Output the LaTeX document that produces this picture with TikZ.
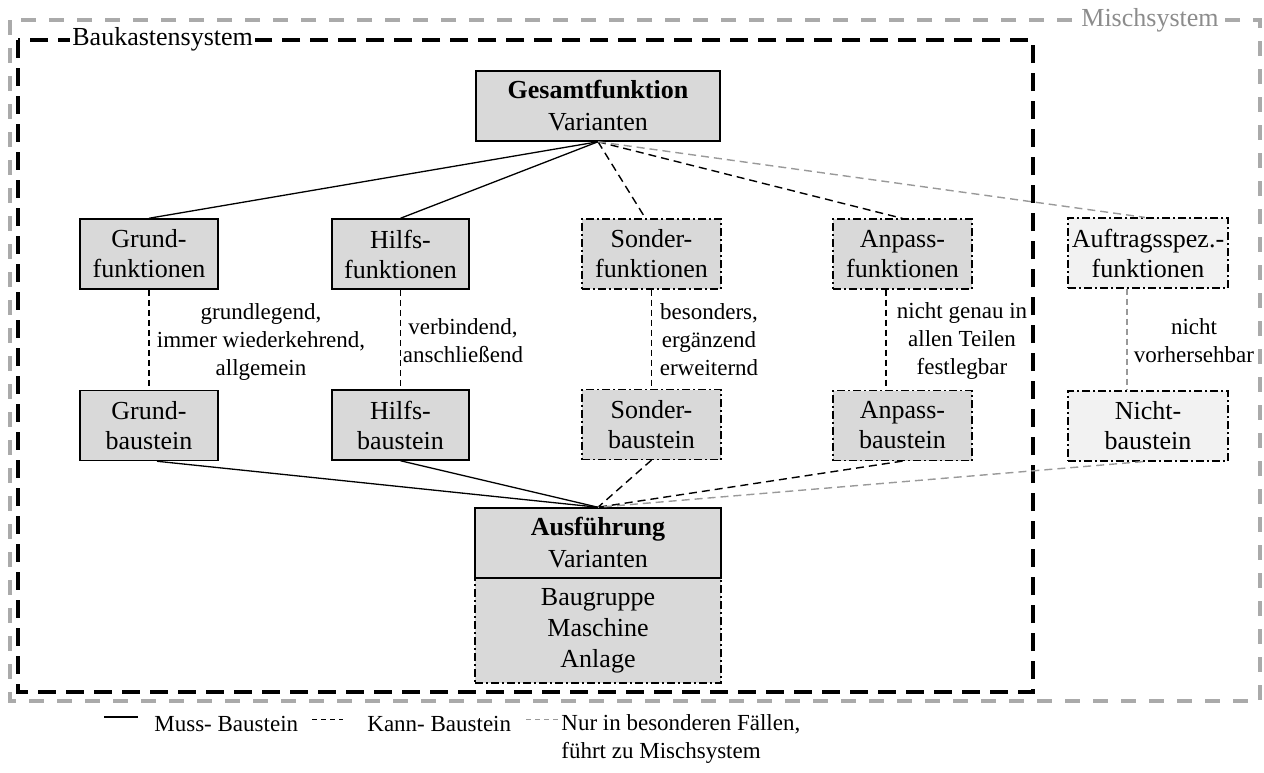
\documentclass[tikz,border=0pt]{standalone}
\usepackage{fontspec}
\setmainfont{Liberation Serif}
\definecolor{boxfill}{HTML}{D9D9D9}
\definecolor{lightfill}{HTML}{F2F2F2}
\definecolor{mischgray}{HTML}{AAAAAA}
\definecolor{mischtext}{HTML}{8C8C8C}
\definecolor{thingray}{HTML}{999999}
\newcommand\boxfont{\fontsize{13pt}{15pt}\selectfont}
\newcommand\bigboxfont{\fontsize{13pt}{16pt}\selectfont}
\newcommand\lblfont{\fontsize{11.5pt}{14pt}\selectfont}
\begin{document}
\begin{tikzpicture}[x=0.5pt,y=-0.5pt,
  box/.style={draw=black, line width=0.75pt, fill=boxfill, minimum width=69pt,
    minimum height=35pt, inner sep=0pt, align=center, font=\boxfont},
  optbox/.style={box, line width=0.6pt, dash pattern=on 4pt off 1.5pt on 1pt off 1.5pt},
  rarebox/.style={optbox, fill=lightfill},
  must/.style={line width=0.65pt},
  can/.style={line width=0.7pt, dash pattern=on 4pt off 2.5pt},
  rare/.style={can, draw=thingray},
  vcan/.style={line width=0.55pt, dash pattern=on 3pt off 2pt},
  vrare/.style={vcan, draw=thingray},
  lbl/.style={align=center, font=\lblfont, inner sep=0pt},
  baukline/.style={line width=2pt, dash pattern=on 9pt off 5pt},
  mischline/.style={line width=1.75pt, draw=mischgray, dash pattern=on 7.5pt off 6.5pt},
  frametitle/.style={fill=white, inner sep=1pt, font=\boxfont}
]
\useasboundingbox (0,0) rectangle (1264,772);

% frames
\draw[mischline] (10,20) rectangle (1260,701);
\draw[baukline] (18,40) rectangle (1033,692);
\node[frametitle, anchor=west] (bk) at (70,39) {Baukastensystem};
\node[frametitle, text=mischtext] (ms) at (1150,20) {Mischsystem};

% top node
\node[box, minimum width=122pt, font=\bigboxfont] (G) at (598,106) {\textbf{Gesamtfunktion}\\Varianten};

% row 1
\node[box] (GF) at (149,254) {Grund-\\funktionen};
\node[box, minimum width=68.5pt] (HF) at (400.5,254) {Hilfs-\\funktionen};
\node[optbox, minimum width=69.5pt] (SF) at (651.5,254) {Sonder-\\funktionen};
\node[optbox, minimum width=69.5pt] (AF) at (902.5,254) {Anpass-\\funktionen};
\node[rarebox, minimum width=80pt] (TF) at (1148,253) {Auftragsspez.-\\funktionen};

% row 2
\node[box] (GB) at (149,425.5) {Grund-\\baustein};
\node[box, minimum width=68.5pt] (HB) at (400.5,425) {Hilfs-\\baustein};
\node[optbox, minimum width=69.5pt] (SB) at (651.5,424.5) {Sonder-\\baustein};
\node[optbox, minimum width=69.5pt] (AB) at (902.5,425.5) {Anpass-\\baustein};
\node[rarebox, minimum width=80pt] (NB) at (1148,426) {Nicht-\\baustein};

% bottom nodes
\node[optbox, minimum width=123pt, minimum height=52.5pt, font=\fontsize{13pt}{15.5pt}\selectfont] (L) at (598,630.5) {Baugruppe\\Maschine\\Anlage};
\node[box, minimum width=123pt, font=\bigboxfont] (A) at (598,543) {\textbf{Ausführung}\\Varianten};

% connectors from top
\draw[must] (G.south) -- (GF.north);
\draw[must] (G.south) -- (HF.north);
\draw[can] (G.south) -- ([xshift=-3pt]SF.north);
\draw[can] (G.south) -- (AF.north);
\draw[rare] (G.south) -- ([xshift=-1.5pt]TF.north);

% vertical connectors
\draw[vcan] (GF.south) -- (GB.north);
\draw[vcan] (HF.south) -- (HB.north);
\draw[vcan] (SF.south) -- (SB.north);
\draw[vcan] ([xshift=-8.25pt]AF.south) -- ([xshift=-8.25pt]AB.north);
\draw[vrare] ([xshift=-10.5pt]TF.south) -- ([xshift=-10.5pt]NB.north);

% connectors to bottom
\draw[must] ([xshift=4pt]GB.south) -- (A.north);
\draw[must] (HB.south) -- (A.north);
\draw[can] (SB.south) -- (A.north);
\draw[can] (AB.south) -- (A.north);
\draw[rare] ([xshift=-2.5pt]NB.south) -- (A.north);

% labels
\node[lbl] (l1) at (261,342) {grundlegend,\\immer wiederkehrend,\\allgemein};
\node[lbl] (l2) at (463,341) {verbindend,\\anschließend};
\node[lbl] (l3) at (709,340) {besonders,\\ergänzend\\erweiternd};
\node[lbl] (l4) at (962,341) {nicht genau in\\allen Teilen\\festlegbar};
\node[lbl] (l5) at (1194,341) {nicht\\vorhersehbar};

% legend
\coordinate (m1) at (104,717); \coordinate (m2) at (138,717);
\draw[must] (m1) -- (m2);
\node[lbl, anchor=base west] (tm) at (154,731) {Muss- Baustein};
\coordinate (k1) at (312,719); \coordinate (k2) at (343,719);
\draw[line width=0.5pt, dash pattern=on 2.5pt off 2pt] (k1) -- (k2);
\node[lbl, anchor=base west] (tk) at (367,731) {Kann- Baustein};
\coordinate (r1) at (526,719); \coordinate (r2) at (560,719);
\draw[line width=0.5pt, draw=thingray, dash pattern=on 2.5pt off 2pt] (r1) -- (r2);
\node[lbl, anchor=north west, align=left] (tr) at (561,714) {Nur in besonderen Fällen,\\führt zu Mischsystem};
\end{tikzpicture}
\end{document}
